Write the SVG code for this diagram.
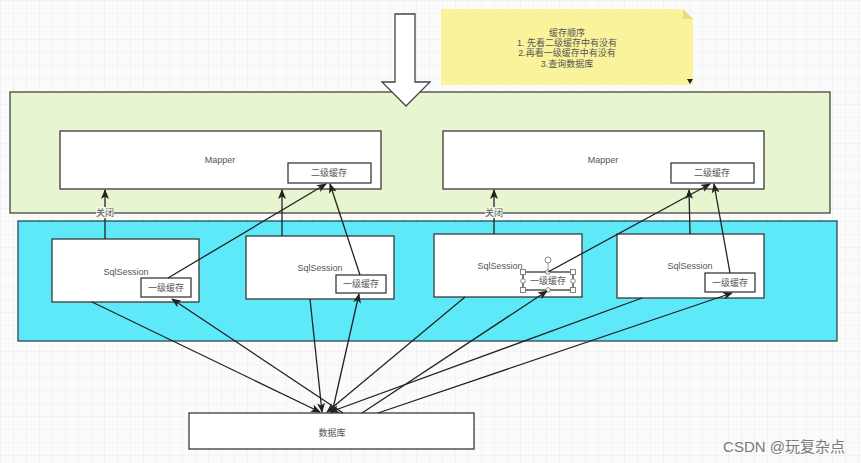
<svg xmlns="http://www.w3.org/2000/svg" width="861" height="463" viewBox="0 0 861 463">
<defs>
<pattern id="grid" width="13" height="13" patternUnits="userSpaceOnUse">
<path d="M13 0 L0 0 L0 13" fill="none" stroke="#ececec" stroke-width="1"/>
</pattern>
<marker id="ah" markerWidth="10" markerHeight="8" refX="9" refY="4" orient="auto" markerUnits="userSpaceOnUse">
<path d="M0,0 L10,4 L0,8 L2.5,4 Z" fill="#222"/>
</marker>
</defs>
<style>
.box{fill:#fff;stroke:#3a3a3a;stroke-width:1.3}
.t{font-family:"Liberation Sans","Noto Sans CJK SC",sans-serif;font-size:9px;fill:#555;text-anchor:middle}
.c{fill:none;stroke:#222;stroke-width:1.3}
.a{marker-end:url(#ah)}
</style>
<rect width="861" height="463" fill="#fbfbfb"/>
<rect width="861" height="463" fill="url(#grid)"/>

<g id="layer-mapper">
<rect x="10" y="92" width="820" height="121" fill="#e7f6d0" stroke="#444" stroke-width="1.3"/>
</g>
<g id="layer-session">
<rect x="18" y="221" width="819" height="120" fill="#5ee9f8" stroke="#2a4a55" stroke-width="1.3"/>
</g>

<g id="note">
<path d="M441,9 L683,9 L693,19 L693,85 L441,85 Z" fill="#faf39c"/>
<path d="M683,9 L683,19 L693,19 Z" fill="#e4dc88"/>
<path d="M687,79 L693,79 L690,84 Z" fill="#222"/>
<text class="t" x="567" y="36">缓存顺序</text>
<text class="t" x="567" y="46">1. 先看二级缓存中有没有</text>
<text class="t" x="567" y="56">2.再看一级缓存中有没有</text>
<text class="t" x="567" y="67">3.查询数据库</text>
</g>

<g id="down-arrow">
<path d="M395,14 L415,14 L415,82 L430,82 L406,106 L382,82 L395,82 Z" fill="#fff" stroke="#444" stroke-width="1.3"/>
</g>

<g id="mapper1">
<rect class="box" x="60" y="131" width="321" height="58"/>
<text class="t" x="220" y="163">Mapper</text>
<rect class="box" x="288" y="163" width="83" height="20"/>
<text class="t" x="329" y="176">二级缓存</text>
</g>
<g id="mapper2">
<rect class="box" x="443" y="131" width="321" height="58"/>
<text class="t" x="603" y="163">Mapper</text>
<rect class="box" x="671" y="163" width="83" height="20"/>
<text class="t" x="712" y="176">二级缓存</text>
</g>

<g id="session1">
<rect class="box" x="52" y="239" width="147" height="63"/>
<text class="t" x="126" y="275">SqlSession</text>
<rect class="box" x="141" y="278" width="50" height="19"/>
<text class="t" x="166" y="291">一级缓存</text>
</g>
<g id="session2">
<rect class="box" x="246" y="236" width="148" height="63"/>
<text class="t" x="320" y="271">SqlSession</text>
<rect class="box" x="336" y="275" width="50" height="18"/>
<text class="t" x="361" y="287">一级缓存</text>
</g>
<g id="session3">
<rect class="box" x="434" y="234" width="148" height="63"/>
<text class="t" x="500" y="269">SqlSession</text>
<rect class="box" x="523" y="272" width="50" height="18"/>
<text class="t" x="548" y="284">一级缓存</text>
<g fill="#fff" stroke="#666" stroke-width="0.8">
<line x1="548" y1="263" x2="548" y2="272" stroke="#888"/>
<circle cx="548" cy="260" r="3"/>
<rect x="520.5" y="269.5" width="5" height="5"/>
<rect x="570.5" y="269.5" width="5" height="5"/>
<rect x="520.5" y="287.5" width="5" height="5"/>
<rect x="570.5" y="287.5" width="5" height="5"/>
<circle cx="548" cy="272" r="2.3"/>
<circle cx="548" cy="290" r="2.3"/>
<circle cx="523" cy="281" r="2.3"/>
<circle cx="573" cy="281" r="2.3"/>
</g>
</g>
<g id="session4">
<rect class="box" x="617" y="234" width="147" height="64"/>
<text class="t" x="690" y="269">SqlSession</text>
<rect class="box" x="705" y="273" width="50" height="19"/>
<text class="t" x="730" y="286">一级缓存</text>
</g>

<g id="database">
<rect class="box" x="189" y="413" width="285" height="36"/>
<text class="t" x="332" y="436">数据库</text>
</g>

<g id="connectors">
<path class="c a" d="M105,239 L105,190"/>
<path class="c a" d="M282,236 L282,190"/>
<path class="c a" d="M494,234 L494,190"/>
<path class="c a" d="M690,234 L689,190"/>
<path class="c a" d="M168,278 L326,184"/>
<path class="c a" d="M360,275 L330,184"/>
<path class="c a" d="M548,272 L710,184"/>
<path class="c a" d="M730,273 L714,184"/>
<path class="c a" d="M92,302 L320,412"/>
<path class="c a" d="M310,299 L322,412"/>
<path class="c a" d="M465,297 L327,412"/>
<path class="c a" d="M642,298 L330,412"/>
<path class="c a" d="M343,413 L172,299"/>
<path class="c a" d="M332,413 L359,294"/>
<path class="c a" d="M362,413 L547,291"/>
<path class="c a" d="M378,413 L732,293"/>
<rect x="96" y="207" width="18" height="11" fill="#f3f8ec"/>
<text class="t" x="105" y="216">关闭</text>
<rect x="485" y="207" width="18" height="11" fill="#f3f8ec"/>
<text class="t" x="494" y="216">关闭</text>
</g>

<text x="845" y="452" font-family="'Liberation Sans','Noto Sans CJK SC',sans-serif" font-size="15" fill="#7a7a7a" text-anchor="end">CSDN @玩复杂点</text>
</svg>
